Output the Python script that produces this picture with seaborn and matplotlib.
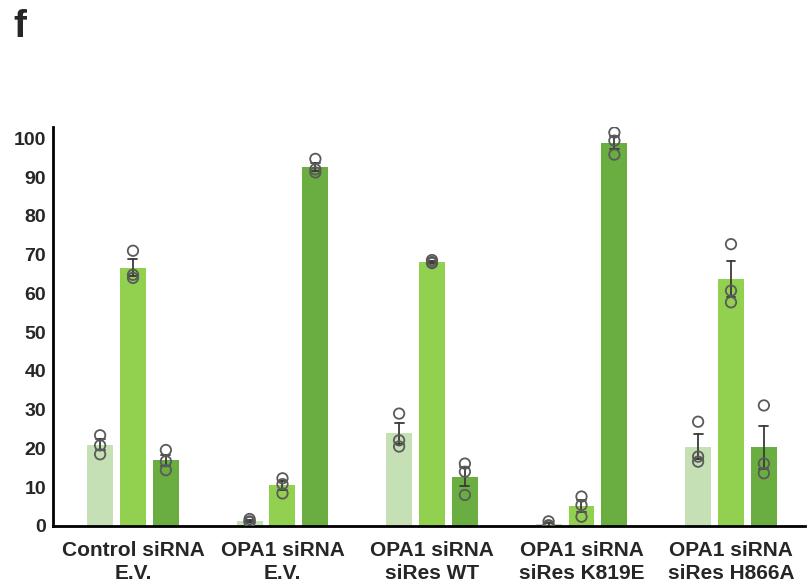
import numpy as np
import pandas as pd
import matplotlib
matplotlib.use("Agg")
import matplotlib.pyplot as plt
import matplotlib.transforms as mtransforms
import seaborn as sns

# ---- data ----
conditions = ["Control siRNA\nE.V.", "OPA1 siRNA\nE.V.", "OPA1 siRNA\nsiRes WT",
              "OPA1 siRNA\nsiRes K819E", "OPA1 siRNA\nsiRes H866A"]
series = ["Series 1", "Series 2", "Series 3"]
series1_pts = [[23.4, 20.8, 18.5], [1.8, 1.2, 1.0], [29.0, 22.1, 20.5], [1.2, 0.2, 0.0], [26.9, 17.9, 16.6]]
series2_pts = [[71.0, 64.8, 64.0], [12.3, 10.8, 8.4], [68.6, 68.1, 67.8], [7.6, 5.4, 2.4], [72.7, 60.7, 57.7]]
series3_pts = [[19.6, 16.7, 14.4], [94.7, 92.0, 91.2], [16.1, 14.0, 8.0], [101.5, 99.4, 95.8], [31.1, 16.1, 13.6]]
yticks = [0, 10, 20, 30, 40, 50, 60, 70, 80, 90, 100]
colors = ["#C5E0B4", "#92D050", "#6AAD40"]

rows = []
for s, pts in zip(series, [series1_pts, series2_pts, series3_pts]):
    for c, vals in zip(conditions, pts):
        for v in vals:
            rows.append({"condition": c, "series": s, "value": v})
df = pd.DataFrame(rows)

sns.set_style("white")
plt.rcParams["font.family"] = ["Liberation Sans", "DejaVu Sans"]

fig = plt.figure(figsize=(8.08, 5.84), dpi=100)
ax = fig.add_axes([53 / 808, 1 - 526 / 584, (805 - 53) / 808, (526 - 126.7) / 584])

BAR_W = 0.66
n_lines0 = len(ax.lines)
sns.barplot(data=df, x="condition", y="value", hue="series", order=conditions,
            hue_order=series, palette=colors, saturation=1, errorbar="se", capsize=0.18,
            width=BAR_W, gap=0.21, linewidth=0, legend=False,
            err_kws={"color": "#3a3a3a", "linewidth": 1.3}, ax=ax)
# keep only the upper cap of each error bar (as in the reference)
for ln in ax.lines[n_lines0:]:
    xd = np.asarray(ln.get_xdata(), dtype=float)
    yd = np.asarray(ln.get_ydata(), dtype=float)
    if len(xd) == 9:
        ln.set_data(xd[3:], yd[3:])

n_before = len(ax.collections)
sns.stripplot(data=df, x="condition", y="value", hue="series", order=conditions,
              hue_order=series, dodge=True, jitter=False, palette=["#5a5a5a"] * 3,
              size=7.5, legend=False, ax=ax, zorder=5)
scale = (BAR_W / 3) / (0.8 / 3)
for coll in ax.collections[n_before:]:
    off = coll.get_offsets()
    if len(off):
        off = np.asarray(off, dtype=float)
        cen = np.round(off[:, 0])
        off[:, 0] = cen + (off[:, 0] - cen) * scale
        coll.set_offsets(off)
    coll.set_facecolor("none")
    coll.set_edgecolor("#5a5a5a")
    coll.set_linewidth(1.3)

ax.set_xlim(-0.535, 4.495)
ax.set_ylim(0, 103)
ax.set_yticks(yticks)
ax.set_yticklabels([str(t) for t in yticks])
ax.set_xlabel("")
ax.set_ylabel("")
for lab in ax.get_yticklabels():
    lab.set_fontweight("bold")
    lab.set_fontsize(14)
shifts = [6, 7, 0, 0, 0]
for lab, dx in zip(ax.get_xticklabels(), shifts):
    lab.set_fontweight("bold")
    lab.set_fontsize(15)
    lab.set_linespacing(1.22)
    if dx:
        lab.set_transform(lab.get_transform() +
                          mtransforms.ScaledTranslation(dx / 100, 0, fig.dpi_scale_trans))
ax.tick_params(axis="both", length=0)
ax.tick_params(axis="x", pad=11)
ax.tick_params(axis="y", pad=5)
for side in ["top", "right"]:
    ax.spines[side].set_visible(False)
for side in ["left", "bottom"]:
    ax.spines[side].set_linewidth(2)
    ax.spines[side].set_color("black")

fig.text(20 / 808, 1 - 27 / 584, "f", fontsize=28, fontweight="bold",
         ha="center", va="center")

fig.savefig("out.png", dpi=100)
